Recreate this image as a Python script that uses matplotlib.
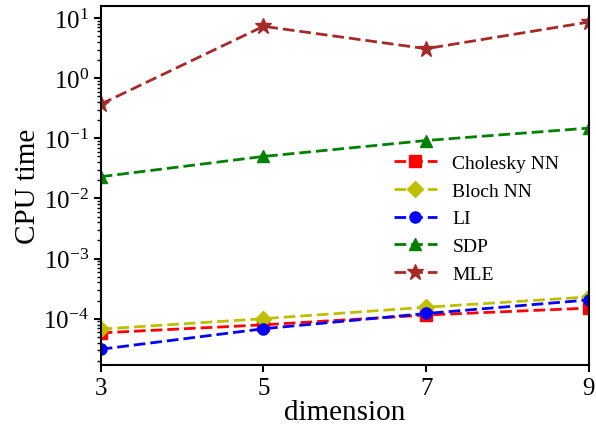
import matplotlib
matplotlib.use("Agg")
import matplotlib.pyplot as plt

plt.rcParams['font.family'] = ['Liberation Serif', 'DejaVu Serif']
plt.rcParams['mathtext.fontset'] = 'stix'

dims = [3, 5, 7, 9]
cholesky = [5.8e-5, 7.9e-5, 1.15e-4, 1.5e-4]
bloch = [6.7e-5, 1.0e-4, 1.55e-4, 2.3e-4]
li = [3.1e-5, 6.8e-5, 1.22e-4, 2.05e-4]
sdp = [0.023, 0.050, 0.092, 0.148]
mle = [0.37, 7.3, 3.1, 8.6]

series = [
    ("Cholesky NN", cholesky, "red", "s"),
    ("Bloch NN", bloch, "y", "D"),
    ("LI", li, "blue", "o"),
    ("SDP", sdp, "green", "^"),
    ("MLE", mle, "brown", "*"),
]

fig = plt.figure(figsize=(5.96, 4.27), dpi=100)
ax = fig.add_axes([0.169, 0.143, 0.819, 0.841])
for name, vals, c, m in series:
    ms = 12 if m == "*" else 8
    ax.plot(dims, vals, linestyle="--", color=c, marker=m, markersize=ms, linewidth=2,
            dashes=(4.2, 1.8), label=name)

ax.set_yscale("log")
ax.set_xlim(3, 9)
ax.set_ylim(1.7e-5, 16)
ax.set_xticks(dims)
ax.tick_params(axis="both", labelsize=18, width=1.5, length=5)
ax.tick_params(axis="y", which="minor", width=1, length=3)
for s in ax.spines.values():
    s.set_linewidth(1.5)
ax.set_xlabel("dimension", fontsize=21, labelpad=0)
ax.set_ylabel("CPU time", fontsize=21, labelpad=2)
ax.legend(loc="upper left", bbox_to_anchor=(0.565, 0.635), frameon=False, fontsize=14,
          handlelength=2.2, labelspacing=0.52)
fig.savefig("out.png", dpi=100)
